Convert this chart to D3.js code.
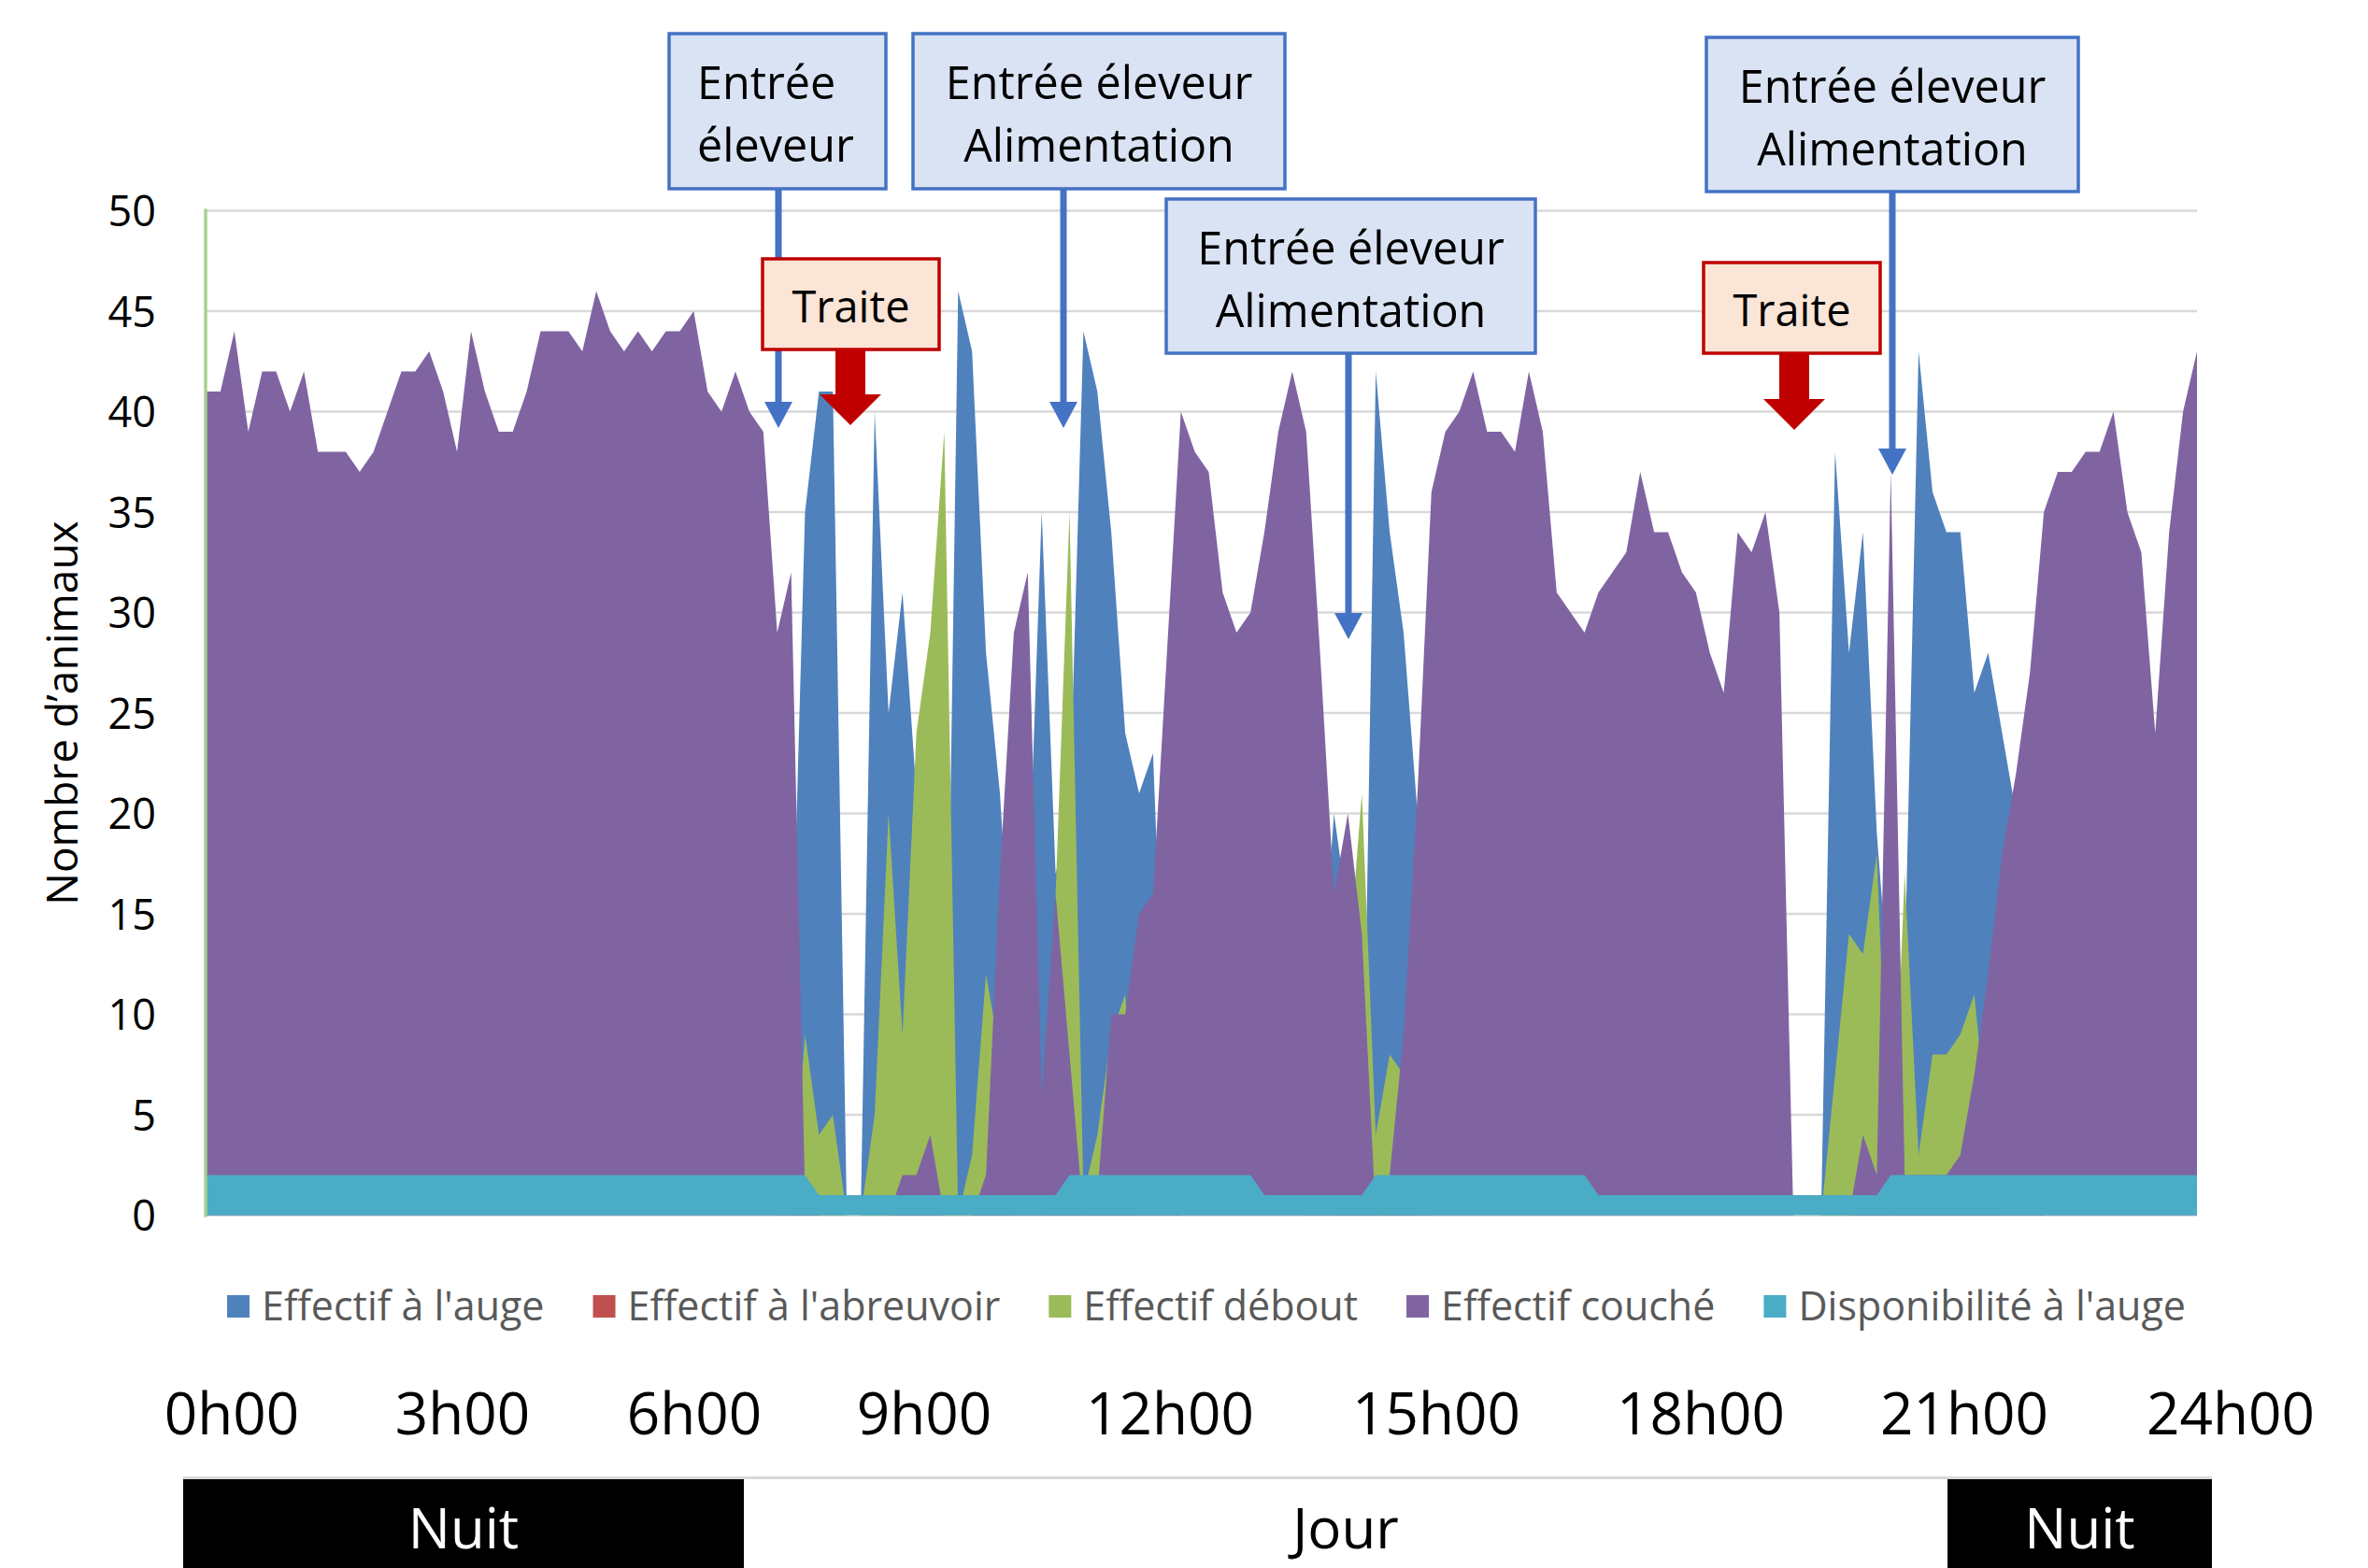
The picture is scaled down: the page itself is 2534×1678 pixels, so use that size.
<!DOCTYPE html>
<html>
<head>
<meta charset="utf-8">
<script src="https://cdn.jsdelivr.net/npm/d3@7"></script>
<style>
  html, body { margin: 0; padding: 0; background: #ffffff; }
  svg { display: block; }
  text { font-family: "Open Sans", "Noto Sans", sans-serif; }
</style>
</head>
<body>
<svg id="chart" width="2534" height="1678"></svg>
<script>
// ---------------- DATA ----------------
// one point every 10 minutes, 0h00 -> 23h50 (144 points)
const categories = d3.range(144).map(i => Math.floor(i / 6) + "h" + String((i % 6) * 10).padStart(2, "0"));

const effectifAuge = [
  0,0,0,0,0,0,0,0,0,0,
  0,0,0,0,0,0,0,0,0,0,
  0,0,0,0,0,0,0,0,0,0,
  0,0,0,0,0,0,0,0,0,0,
  0,0,10,35,41,41,0,0,40,25,
  31,21,10,0,46,43,28,21,10,15,
  35,17,20,44,41,34,24,21,23,5,
  0,0,0,0,0,0,0,0,0,0,
  10,20,15,0,42,34,29,20,0,0,
  0,0,0,0,0,0,0,0,0,0,
  0,0,0,0,0,0,0,0,0,0,
  0,0,0,0,0,0,0,38,28,34,
  19,10,12,43,36,34,34,26,28,24,
  20,8,0,0,0,0,0,0,0,0,
  0,0,0,0
];

const effectifAbreuvoir = new Array(144).fill(0);

const effectifDebout = [
  0,0,0,0,0,0,0,0,0,0,
  0,0,0,0,0,0,0,0,0,0,
  0,0,0,0,0,0,0,0,0,0,
  0,0,0,0,0,0,0,0,0,0,
  0,0,0,9,4,5,0,0,5,20,
  9,24,29,39,0,3,12,8,0,0,
  0,16,35,1,4,9,11,0,0,0,
  0,0,0,0,0,0,0,0,0,0,
  0,0,12,21,4,8,7,0,0,0,
  0,0,0,0,0,0,0,0,0,0,
  0,0,0,0,0,0,0,0,0,0,
  0,0,0,0,0,0,0,7,14,13,
  18,0,17,3,8,8,9,11,4,0,
  0,0,0,0,0,0,0,0,0,0,
  0,0,0,0
];

const effectifCouche = [
  41,41,44,39,42,42,40,42,38,38,
  38,37,38,40,42,42,43,41,38,44,
  41,39,39,41,44,44,44,43,46,44,
  43,44,43,44,44,45,41,40,42,40,
  39,29,32,1,0,0,0,0,0,0,
  2,2,4,0,0,0,2,17,29,32,
  6,16,8,0,1,10,10,15,16,28,
  40,38,37,31,29,30,34,39,42,39,
  28,16,20,14,0,2,9,21,36,39,
  40,42,39,39,38,42,39,31,30,29,
  31,32,33,37,34,34,32,31,28,26,
  34,33,35,30,0,0,0,0,0,4,
  2,37,2,2,2,2,3,7,12,18,
  22,27,35,37,37,38,38,40,35,33,
  24,34,40,43
];

const disponibiliteAuge = [
  2,2,2,2,2,2,2,2,2,2,
  2,2,2,2,2,2,2,2,2,2,
  2,2,2,2,2,2,2,2,2,2,
  2,2,2,2,2,2,2,2,2,2,
  2,2,2,2,1,1,1,1,1,1,
  1,1,1,1,1,1,1,1,1,1,
  1,1,2,2,2,2,2,2,2,2,
  2,2,2,2,2,2,1,1,1,1,
  1,1,1,1,2,2,2,2,2,2,
  2,2,2,2,2,2,2,2,2,2,
  1,1,1,1,1,1,1,1,1,1,
  1,1,1,1,1,1,1,1,1,1,
  1,2,2,2,2,2,2,2,2,2,
  2,2,2,2,2,2,2,2,2,2,
  2,2,2,2
];

const seriesNames = ["Effectif à l'auge", "Effectif à l'abreuvoir", "Effectif débout", "Effectif couché", "Disponibilité à l'auge"];
const seriesColors = ["#4f81bd", "#c0504d", "#9bbb59", "#8064a2", "#4bacc6"];
const seriesValues = [effectifAuge, effectifAbreuvoir, effectifDebout, effectifCouche, disponibiliteAuge];

const yTicks = [0, 5, 10, 15, 20, 25, 30, 35, 40, 45, 50];
const yTitle = "Nombre d\u2019animaux";

const hourLabels = ["0h00", "3h00", "6h00", "9h00", "12h00", "15h00", "18h00", "21h00", "24h00"];
const hourValues = [0, 3, 6, 9, 12, 15, 18, 21, 24];

const periodLabels = ["Nuit", "Jour", "Nuit"];

const annotLines = [["Entrée", "éleveur"], ["Entrée éleveur", "Alimentation"], ["Entrée éleveur", "Alimentation"], ["Entrée éleveur", "Alimentation"]];
const traiteLabel = "Traite";

// ---------------- LAYOUT ----------------
const svg = d3.select("#chart");
const plot = { left: 221, right: 2351, top: 225.5, bottom: 1300.5 };

const x = d3.scaleLinear().domain([0, categories.length - 1]).range([plot.left, plot.right]);
const y = d3.scaleLinear().domain([0, 50]).range([plot.bottom, plot.top]);

// gridlines
svg.append("g").selectAll("line").data(yTicks).join("line")
  .attr("x1", plot.left).attr("x2", plot.right)
  .attr("y1", d => y(d)).attr("y2", d => y(d))
  .attr("stroke", "#d9d9d9").attr("stroke-width", 2.5);

// y-axis labels
const yAxis = d3.axisLeft(y).tickValues(yTicks).tickSize(0).tickPadding(0);
const gy = svg.append("g").attr("transform", `translate(${167},0)`).call(yAxis);
gy.select(".domain").remove();
gy.selectAll("text").attr("font-family", "'Open Sans', sans-serif").attr("font-size", 45).attr("fill", "#000").attr("dy", "0.36em");

// y title
svg.append("text")
  .attr("transform", `translate(83,${(plot.top + plot.bottom) / 2}) rotate(-90)`)
  .attr("text-anchor", "middle")
  .attr("font-size", 46).attr("fill", "#000")
  .text(yTitle);

// areas (drawn in series order, later ones on top)
const area = d3.area()
  .x((d, i) => x(i))
  .y0(y(0))
  .y1(d => y(d));

svg.append("g").selectAll("path").data(seriesValues).join("path")
  .attr("d", d => area(d))
  .attr("fill", (d, i) => seriesColors[i]);

// left axis line (light green)
svg.append("line")
  .attr("x1", plot.left - 1).attr("x2", plot.left - 1)
  .attr("y1", y(50) - 2).attr("y2", y(0) + 2)
  .attr("stroke", "#a9d18e").attr("stroke-width", 3.5);

// legend
const legend = svg.append("g");
const legendY = 1398;
const legendItems = [];
seriesNames.forEach((name, i) => {
  const g = legend.append("g");
  g.append("rect").attr("x", 0).attr("y", legendY - 12).attr("width", 24).attr("height", 24).attr("fill", seriesColors[i]);
  const t = g.append("text").attr("x", 37).attr("y", legendY).attr("dy", "0.35em")
    .attr("font-size", 43).attr("fill", "#595959").text(name);
  const w = 37 + t.node().getComputedTextLength();
  legendItems.push({ g, w });
});
const gap = 52;
const totalW = d3.sum(legendItems, d => d.w) + gap * (legendItems.length - 1);
let lx = 1291 - totalW / 2;
legendItems.forEach(it => { it.g.attr("transform", `translate(${lx},0)`); lx += it.w + gap; });

// hour labels row
const hourX = d3.scaleLinear().domain(hourValues).range([248, 495, 743, 989, 1252, 1537, 1820, 2102, 2387]);
svg.append("g").selectAll("text").data(hourLabels).join("text")
  .attr("x", (d, i) => hourX(hourValues[i]))
  .attr("y", 1535)
  .attr("text-anchor", "middle")
  .attr("font-size", 62).attr("fill", "#000")
  .text(d => d);

// night / day band
const bandTop = 1583;
const bandEdges = [196, 796, 2084, 2367];
svg.append("line").attr("x1", bandEdges[0]).attr("x2", bandEdges[3]).attr("y1", bandTop - 1).attr("y2", bandTop - 1)
  .attr("stroke", "#d9d9d9").attr("stroke-width", 4);
const bands = svg.append("g").selectAll("g").data(periodLabels).join("g");
bands.append("rect")
  .attr("x", (d, i) => bandEdges[i]).attr("y", bandTop)
  .attr("width", (d, i) => bandEdges[i + 1] - bandEdges[i]).attr("height", 1678 - bandTop)
  .attr("fill", d => d === "Nuit" ? "#000" : "#fff");
bands.append("text")
  .attr("x", (d, i) => (bandEdges[i] + bandEdges[i + 1]) / 2)
  .attr("y", 1657)
  .attr("text-anchor", "middle")
  .attr("font-size", 60)
  .attr("fill", d => d === "Nuit" ? "#fff" : "#000")
  .text(d => d);

// ---------------- ANNOTATIONS ----------------
const annotBoxes = [
  { x0: 716, x1: 948, y0: 36, y1: 202, arrowX: 833, tip: 458, align: "start", tx: 746 },
  { x0: 977, x1: 1375, y0: 36, y1: 202, arrowX: 1138, tip: 458, align: "middle" },
  { x0: 1248, x1: 1643, y0: 213, y1: 378, arrowX: 1443, tip: 684, align: "middle" },
  { x0: 1826, x1: 2224, y0: 40, y1: 205, arrowX: 2025, tip: 508, align: "middle" }
];
const blue = "#4472c4";
const ann = svg.append("g");
annotBoxes.forEach((b, i) => {
  ann.append("line").attr("x1", b.arrowX).attr("x2", b.arrowX).attr("y1", b.y1).attr("y2", b.tip - 20)
    .attr("stroke", blue).attr("stroke-width", 7);
  ann.append("path")
    .attr("d", `M${b.arrowX - 15},${b.tip - 28} L${b.arrowX + 15},${b.tip - 28} L${b.arrowX},${b.tip} Z`)
    .attr("fill", blue);
  ann.append("rect").attr("x", b.x0).attr("y", b.y0).attr("width", b.x1 - b.x0).attr("height", b.y1 - b.y0)
    .attr("fill", "#dae3f3").attr("stroke", blue).attr("stroke-width", 3.5);
  const tx = b.align === "start" ? b.tx : (b.x0 + b.x1) / 2;
  annotLines[i].forEach((line, k) => {
    ann.append("text").attr("x", tx).attr("y", b.y0 + 70 + k * 67)
      .attr("text-anchor", b.align).attr("font-size", 48.5).attr("fill", "#000").text(line);
  });
});

const traiteBoxes = [
  { x0: 816, x1: 1005, y0: 277, y1: 374, cx: 910, headTop: 422, tip: 455 },
  { x0: 1823, x1: 2012, y0: 281, y1: 378, cx: 1920, headTop: 427, tip: 460 }
];
const red = "#c00000";
traiteBoxes.forEach(b => {
  ann.append("path")
    .attr("d", `M${b.cx - 16},${b.y1} L${b.cx + 16},${b.y1} L${b.cx + 16},${b.headTop} L${b.cx + 33},${b.headTop} L${b.cx},${b.tip} L${b.cx - 33},${b.headTop} L${b.cx - 16},${b.headTop} Z`)
    .attr("fill", red);
  ann.append("rect").attr("x", b.x0).attr("y", b.y0).attr("width", b.x1 - b.x0).attr("height", b.y1 - b.y0)
    .attr("fill", "#fbe5d6").attr("stroke", red).attr("stroke-width", 3.5);
  ann.append("text").attr("x", (b.x0 + b.x1) / 2).attr("y", b.y0 + 68)
    .attr("text-anchor", "middle").attr("font-size", 47).attr("fill", "#000").text(traiteLabel);
});
</script>
</body>
</html>
